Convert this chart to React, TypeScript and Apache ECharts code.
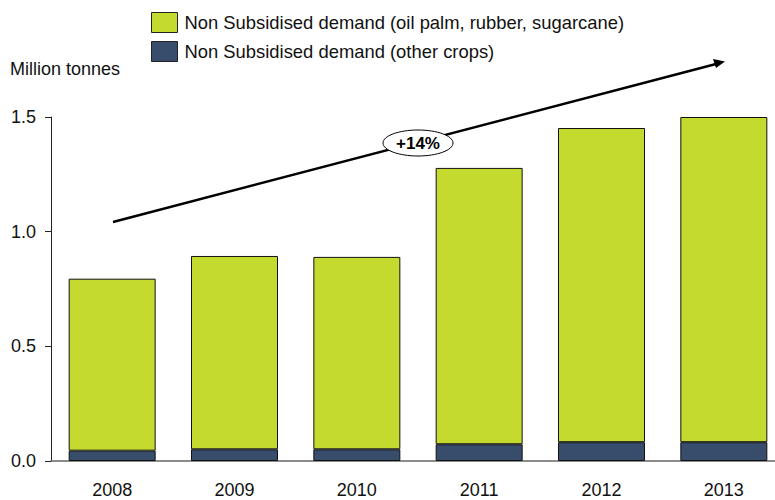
import React, { useEffect, useRef } from "react";
import * as echarts from "echarts";

const categories = ["2008", "2009", "2010", "2011", "2012", "2013"];
const otherCrops = [0.045, 0.051, 0.051, 0.073, 0.082, 0.082];
const palmRubberSugar = [0.75, 0.843, 0.839, 1.205, 1.37, 1.418];
const yTicks = [0, 0.5, 1.0, 1.5];
const seriesNames = [
  "Non Subsidised demand (oil palm, rubber, sugarcane)",
  "Non Subsidised demand (other crops)",
];
const growthLabel = "+14%";
const axisName = "Million tonnes";

const FONT = "Liberation Sans, Arial, sans-serif";

export default function App() {
  const ref = useRef<HTMLDivElement>(null);
  useEffect(() => {
    if (!ref.current) return;
    const chart = echarts.init(ref.current, null, { renderer: "svg" });
    chart.setOption({
      animation: false,
      backgroundColor: "#ffffff",
      textStyle: { fontFamily: FONT },
      grid: { left: 51, width: 734, top: 117, bottom: 39 },
      legend: {
        orient: "vertical",
        left: 146,
        top: 7,
        itemWidth: 26,
        itemHeight: 20,
        itemGap: 8,
        icon: "rect",
        data: [seriesNames[0], seriesNames[1]],
        textStyle: { fontSize: 18.4, color: "#111", fontFamily: FONT, padding: [0, 0, 0, 2] },
        itemStyle: { borderColor: "#222", borderWidth: 1 },
      },
      xAxis: {
        type: "category",
        data: categories,
        axisLine: { lineStyle: { color: "#666", width: 1.5 } },
        axisTick: { show: false },
        axisLabel: { fontSize: 18, color: "#111", margin: 20, fontFamily: FONT },
      },
      yAxis: {
        type: "value",
        min: 0,
        max: 1.5,
        interval: 0.5,
        splitLine: { show: false },
        axisLine: { show: true, lineStyle: { color: "#222", width: 1 } },
        axisTick: { show: true, length: 6, lineStyle: { color: "#222" } },
        axisLabel: {
          fontSize: 18,
          color: "#111",
          margin: 15,
          fontFamily: FONT,
          formatter: (v: number) => (yTicks.includes(v) ? v.toFixed(1) : ""),
        },
      },
      series: [
        {
          name: seriesNames[1],
          type: "bar",
          stack: "total",
          barWidth: 87,
          data: otherCrops,
          itemStyle: { color: "#384c6c", borderColor: "#111", borderWidth: 1 },
        },
        {
          name: seriesNames[0],
          type: "bar",
          stack: "total",
          barWidth: 87,
          data: palmRubberSugar,
          itemStyle: { color: "#c4da2f", borderColor: "#111", borderWidth: 1 },
        },
      ],
      graphic: [
        {
          type: "text",
          left: 10,
          top: 60,
          style: { text: axisName, fontSize: 18, fill: "#111", fontFamily: FONT },
        },
        {
          type: "line",
          shape: { x1: 113, y1: 222, x2: 716, y2: 64 },
          style: { stroke: "#000", lineWidth: 2.5 },
          z: 100,
        },
        {
          type: "polygon",
          shape: { points: [[725, 61.5], [713, 59], [716, 68]] },
          style: { fill: "#000" },
          z: 100,
        },
        {
          type: "ellipse",
          shape: { cx: 418, cy: 143, rx: 35, ry: 13 },
          style: { fill: "#fff", stroke: "#000", lineWidth: 1 },
          z: 101,
        },
        {
          type: "text",
          x: 418,
          y: 143,
          style: {
            text: growthLabel,
            fontSize: 17,
            fontWeight: "bold",
            fill: "#000",
            align: "center",
            verticalAlign: "middle",
            fontFamily: FONT,
          },
          z: 102,
        },
      ],
    });
    return () => chart.dispose();
  }, []);
  return (
    <div style={{ position: "fixed", left: 0, top: 0, width: 775, height: 500, overflow: "hidden" }}>
      <div ref={ref} style={{ width: 790, height: 500 }} />
    </div>
  );
}
